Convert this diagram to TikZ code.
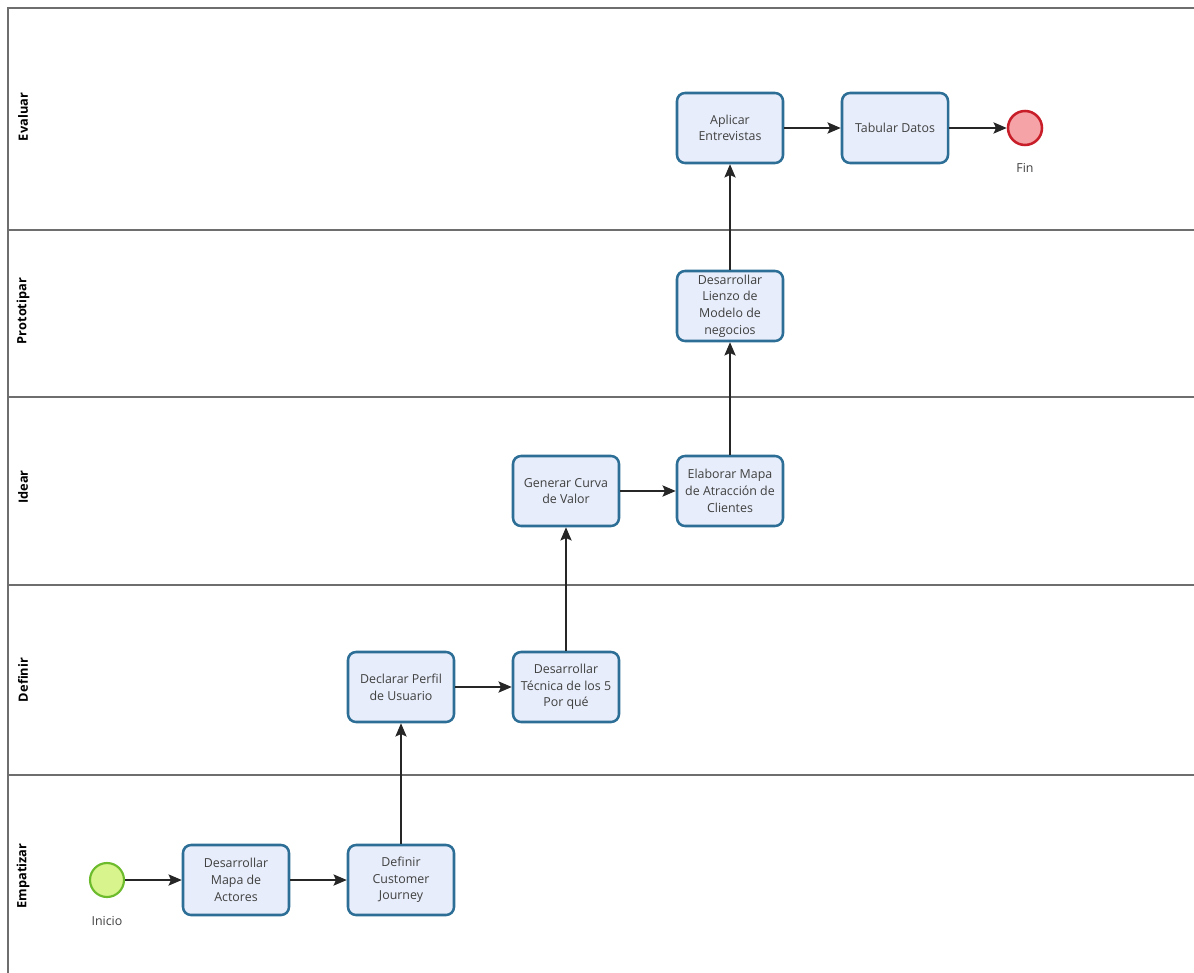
\documentclass[tikz,border=0pt]{standalone}
\usepackage{fontspec}
\setmainfont{Open Sans}
\usetikzlibrary{arrows.meta}
\definecolor{taskfill}{HTML}{E7EDFA}
\definecolor{taskline}{HTML}{2C6E96}
\definecolor{startfill}{HTML}{D8F48C}
\definecolor{startline}{HTML}{6CBB2C}
\definecolor{endfill}{HTML}{F5A3A6}
\definecolor{endline}{HTML}{C81E2A}
\definecolor{lanegray}{HTML}{6E6E6E}
\tikzset{
  task/.style={draw=taskline, fill=taskfill, line width=1.9pt, rounded corners=6pt,
    minimum width=106*0.75pt, minimum height=70*0.75pt, inner sep=1pt,
    align=center, font=\fontsize{9.3}{12.5}\selectfont, text=black!75},
  startev/.style={circle, draw=startline, fill=startfill, line width=1.6pt, minimum size=34*0.75pt, inner sep=0pt},
  endev/.style={circle, draw=endline, fill=endfill, line width=1.9pt, minimum size=34*0.75pt, inner sep=0pt},
  evlabel/.style={font=\fontsize{9.3}{11}\selectfont, text=black!75},
  lanelabel/.style={rotate=90, font=\bfseries\fontsize{9.6}{11}\selectfont},
  flow/.style={-{Stealth[length=10pt,width=8.5pt,inset=2pt]}, line width=0.9pt, black!85},
  lane/.style={lanegray, line width=1.1pt}
}
\begin{document}
\begin{tikzpicture}[x=0.75pt,y=-0.75pt]
\useasboundingbox (0,0) rectangle (1194,973);
% pool frame and lane separators
\draw[lane] (1194,8) -- (8,8) -- (8,973);
\draw[lane] (8,230) -- (1194,230);
\draw[lane] (8,397) -- (1194,397);
\draw[lane] (8,585) -- (1194,585);
\draw[lane] (8,775) -- (1194,775);
% lane titles
\node[lanelabel] (lev) at (23,117) {Evaluar};
\node[lanelabel] (lpr) at (23,311) {Prototipar};
\node[lanelabel] (lid) at (23,487) {Idear};
\node[lanelabel] (lde) at (23,680) {Definir};
\node[lanelabel] (lem) at (23,876) {Empatizar};
% events
\node[startev] (inicio) at (107,880) {};
\node[evlabel] (inicioL) at (107,921) {Inicio};
\node[endev] (fin) at (1025,128) {};
\node[evlabel] (finL) at (1025,168) {Fin};
% tasks
\node[task] (actores) at (236,880) {Desarrollar\\Mapa de\\Actores};
\node[task] (journey) at (401,880) {Definir\\Customer\\Journey};
\node[task] (perfil) at (401,687) {Declarar Perfil\\de Usuario};
\node[task] (tecnica) at (566,687) {Desarrollar\\Técnica de los 5\\Por qué};
\node[task] (curva) at (566,491) {Generar Curva\\de Valor};
\node[task] (atraccion) at (730,491) {Elaborar Mapa\\de Atracción de\\Clientes};
\node[task] (lienzo) at (730,306) {Desarrollar\\Lienzo de\\Modelo de\\negocios};
\node[task] (entrevistas) at (730,128) {Aplicar\\Entrevistas};
\node[task] (tabular) at (895,128) {Tabular Datos};
% sequence flows
\draw[flow] (inicio) -- (actores);
\draw[flow] (actores) -- (journey);
\draw[flow] (journey) -- (perfil);
\draw[flow] (perfil) -- (tecnica);
\draw[flow] (tecnica) -- (curva);
\draw[flow] (curva) -- (atraccion);
\draw[flow] (atraccion) -- (lienzo);
\draw[flow] (lienzo) -- (entrevistas);
\draw[flow] (entrevistas) -- (tabular);
\draw[flow] (tabular) -- (fin);
\end{tikzpicture}
\end{document}
